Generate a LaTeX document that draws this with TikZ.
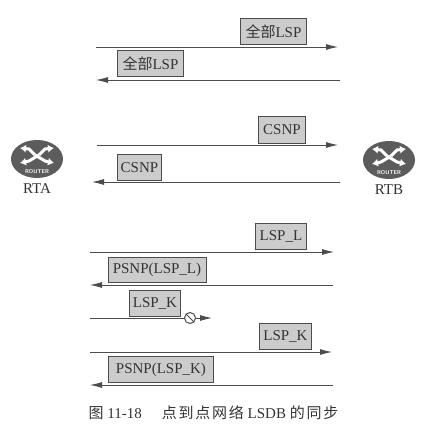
\documentclass[tikz,border=0pt]{standalone}
\usepackage{fontspec}
\setmainfont{Liberation Serif}
\newfontfamily\cjk{Noto Sans CJK SC}
\newfontfamily\cjkwide[LetterSpace=12]{Noto Sans CJK SC}
\usetikzlibrary{shapes.geometric,arrows.meta,positioning,calc}
\definecolor{boxgray}{gray}{0.80}
\definecolor{linegray}{gray}{0.30}
\definecolor{routergray}{gray}{0.36}
\tikzstyle{pdu}=[rectangle, draw=linegray, fill=boxgray, line width=0.9pt, inner sep=0pt,
                 text=black!80, font=\fontsize{15}{17}\selectfont, anchor=north west]
\tikzstyle{arr}=[-{Latex[length=12pt,width=6pt]}, line width=0.8pt, draw=linegray]
\tikzstyle{routerbody}=[ellipse, fill=routergray, minimum width=52pt, minimum height=38pt, inner sep=0pt]
\tikzstyle{rarrow}=[white, line width=3pt, -{Latex[length=6pt,width=8pt]}]
\tikzstyle{hostname}=[font=\fontsize{15}{17}\selectfont, text=black!80]
\tikzset{
  router/.pic={
    \node[routerbody] (-body) at (0,0) {};
    \draw[rarrow] (-2,-4) -- (-8,-10) -- (-17,-11);
    \draw[rarrow] (2,-4) -- (8,-10) -- (17,-11);
    \draw[rarrow] (2,-4) -- (-8,2) -- (-17,4);
    \draw[rarrow] (-2,-4) -- (8,2) -- (17,4);
    \node[white, font=\fontsize{5.5}{6}\selectfont\sffamily\bfseries] (-name) at (0,13) {ROUTER};
  }
}
\begin{document}
\begin{tikzpicture}[x=1pt,y=-1pt]
  \useasboundingbox (0,0) rectangle (426,435);

  % routers
  \pic (rta) at (37,159) {router};
  \pic (rtb) at (389,160) {router};
  \node[hostname] (rtaname) at (37,189) {RTA};
  \node[hostname] (rtbname) at (389,190) {RTB};

  % packets
  \node[pdu, minimum width=66pt, minimum height=26pt] (p1) at (240,18) {{\cjk 全部}LSP};
  \node[pdu, minimum width=66pt, minimum height=26pt] (p2) at (117,50) {{\cjk 全部}LSP};
  \node[pdu, minimum width=47pt, minimum height=27pt] (p3) at (258,116) {CSNP};
  \node[pdu, minimum width=44pt, minimum height=26pt] (p4) at (117,154) {CSNP};
  \node[pdu, minimum width=51pt, minimum height=26pt] (p5) at (255,223) {LSP\_L};
  \node[pdu, minimum width=98pt, minimum height=25pt] (p6) at (107.5,257) {PSNP(LSP\_L)};
  \node[pdu, minimum width=51pt, minimum height=26pt] (p7) at (129,290) {LSP\_K};
  \node[pdu, minimum width=52pt, minimum height=26pt] (p8) at (259,323) {LSP\_K};
  \node[pdu, minimum width=105pt, minimum height=26pt] (p9) at (108,356) {PSNP(LSP\_K)};

  % line ends
  \coordinate (a1) at (96,47);   \coordinate (b1) at (338,47);
  \coordinate (a2) at (96,80);   \coordinate (b2) at (340,80);
  \coordinate (a3) at (97,145);  \coordinate (b3) at (338,145);
  \coordinate (a4) at (92,182);  \coordinate (b4) at (340,182);
  \coordinate (a5) at (90,252);  \coordinate (b5) at (334,252);
  \coordinate (a6) at (90,285);  \coordinate (b6) at (333,285);
  \coordinate (a7) at (90,318);  \coordinate (b7) at (212,318);
  \coordinate (a8) at (90,352);  \coordinate (b8) at (332,352);
  \coordinate (a9) at (90,385);  \coordinate (b9) at (333,385);

  % exchange
  \draw[arr] (a1) -- (b1);
  \draw[arr] (b2) -- (a2);
  \draw[arr] (a3) -- (b3);
  \draw[arr] (b4) -- (a4);
  \draw[arr] (a5) -- (b5);
  \draw[arr] (b6) -- (a6);
  \draw[arr] (a7) -- (b7);
  \draw[arr] (a8) -- (b8);
  \draw[arr] (b9) -- (a9);

  % lost packet
  \node[circle, draw=linegray, fill=white, line width=1pt, minimum size=11pt, inner sep=0pt] (lost) at (190,318) {};
  \draw[linegray, line width=1pt] (lost.north west) -- (lost.south east);

  \node[font=\fontsize{15}{17}\selectfont, text=black!80] (caption) at (213.5,413) {{\cjkwide 图} 11-18\hspace{20pt}{\cjkwide 点到点网络} LSDB {\cjkwide 的同步}};
\end{tikzpicture}
\end{document}
